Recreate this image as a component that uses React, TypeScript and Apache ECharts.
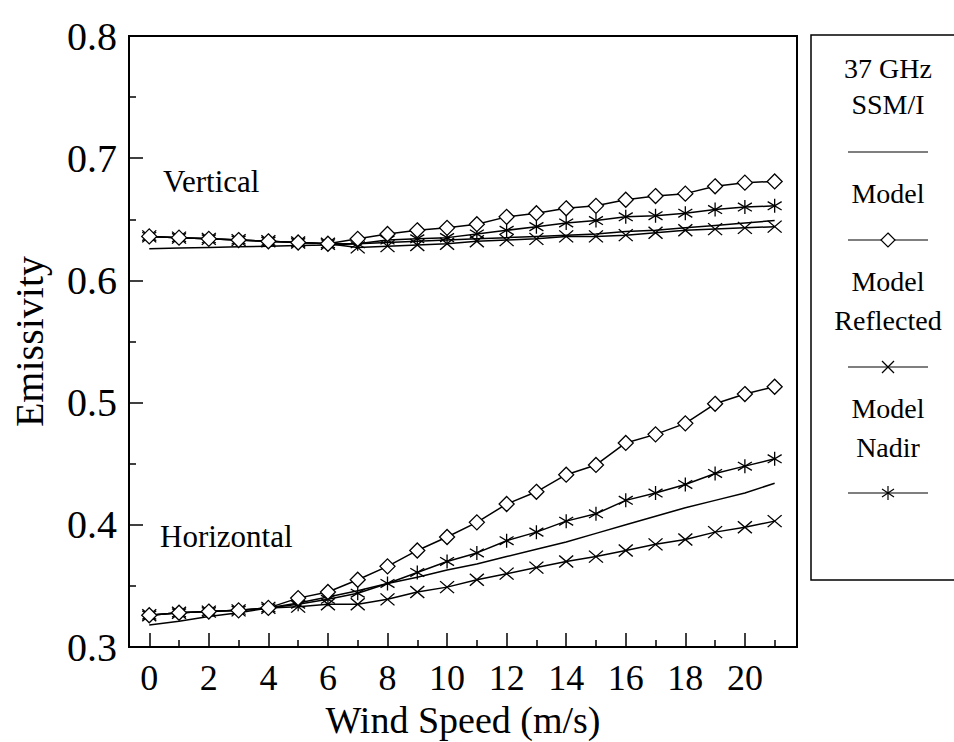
import React, { useEffect, useRef } from "react";
import * as echarts from "echarts";

const windSpeed = [0, 1, 2, 3, 4, 5, 6, 7, 8, 9, 10, 11, 12, 13, 14, 15, 16, 17, 18, 19, 20, 21];

const ssmiVertical = [0.626, 0.6265, 0.627, 0.6275, 0.628, 0.6285, 0.629, 0.63, 0.631, 0.632, 0.633, 0.634, 0.635, 0.636, 0.637, 0.638, 0.64, 0.641, 0.643, 0.645, 0.647, 0.649];
const modelVertical = [0.636, 0.635, 0.634, 0.633, 0.632, 0.631, 0.63, 0.634, 0.638, 0.641, 0.643, 0.646, 0.652, 0.655, 0.659, 0.661, 0.666, 0.669, 0.671, 0.677, 0.68, 0.681];
const reflectedVertical = [0.636, 0.635, 0.634, 0.633, 0.632, 0.631, 0.63, 0.627, 0.628, 0.629, 0.63, 0.632, 0.633, 0.634, 0.636, 0.636, 0.637, 0.639, 0.641, 0.642, 0.643, 0.644];
const nadirVertical = [0.636, 0.635, 0.634, 0.633, 0.632, 0.631, 0.63, 0.63, 0.633, 0.634, 0.635, 0.638, 0.641, 0.644, 0.647, 0.649, 0.652, 0.653, 0.655, 0.658, 0.66, 0.661];

const ssmiHorizontal = [0.318, 0.321, 0.325, 0.328, 0.332, 0.336, 0.341, 0.346, 0.352, 0.357, 0.363, 0.368, 0.374, 0.38, 0.386, 0.393, 0.4, 0.407, 0.414, 0.42, 0.426, 0.434];
const modelHorizontal = [0.326, 0.328, 0.329, 0.33, 0.332, 0.34, 0.345, 0.355, 0.366, 0.379, 0.39, 0.402, 0.417, 0.427, 0.441, 0.449, 0.467, 0.474, 0.483, 0.499, 0.507, 0.513];
const nadirHorizontal = [0.326, 0.328, 0.329, 0.33, 0.332, 0.335, 0.339, 0.344, 0.352, 0.361, 0.37, 0.377, 0.387, 0.394, 0.403, 0.409, 0.42, 0.426, 0.433, 0.442, 0.448, 0.454];
const reflectedHorizontal = [0.326, 0.328, 0.329, 0.33, 0.332, 0.333, 0.335, 0.335, 0.339, 0.345, 0.349, 0.355, 0.36, 0.365, 0.37, 0.374, 0.379, 0.384, 0.388, 0.394, 0.398, 0.403];

const majorXTicks = [0, 2, 4, 6, 8, 10, 12, 14, 16, 18, 20];
const minorXTicks = [1, 3, 5, 7, 9, 11, 13, 15, 17, 19, 21];

const FONT = "'Liberation Serif', 'Times New Roman', serif";

const DIAMOND = "diamond";
const CROSS = "path://M0,0L10,10M10,0L0,10";
const STAR = "path://M5,0L5,10M0,2L10,8M10,2L0,8";

function pair(xs: number[], ys: number[]) {
  return xs.map((x, i) => [x, ys[i]]);
}

function lineSeries(name: string, ys: number[], symbol: string | null, size: number[] = [14, 14]) {
  return {
    name,
    type: "line",
    data: pair(windSpeed, ys),
    xAxisIndex: 0,
    yAxisIndex: 0,
    showSymbol: symbol !== null,
    symbol: symbol ?? "none",
    symbolSize: size,
    lineStyle: { color: "#000", width: 1.5 },
    itemStyle: { color: symbol === DIAMOND ? "#fff" : "none", borderColor: "#000", borderWidth: 1.3 },
    emphasis: { disabled: true },
  };
}

export default function App() {
  const ref = useRef<HTMLDivElement>(null);
  useEffect(() => {
    document.body.style.margin = "0";
    const chart = echarts.init(ref.current!, null, { renderer: "svg" });
    const lx = 888;
    const legendLine = (y: number) => ({
      type: "line",
      shape: { x1: 848, y1: y, x2: 928, y2: y },
      style: { stroke: "#000", lineWidth: 1.2 },
    });
    const legendText = (t: string, y: number) => ({
      type: "text",
      x: lx,
      y,
      style: { text: t, font: `28px ${FONT}`, fill: "#000", align: "center", verticalAlign: "middle" },
    });
    chart.setOption({
      animation: false,
      backgroundColor: "#fff",
      grid: {
        left: 129,
        right: 157,
        top: 36,
        bottom: 95,
        containLabel: false,
        outerBoundsMode: "none",
        show: true,
        borderColor: "#000",
        borderWidth: 2,
        backgroundColor: "transparent",
      },
      xAxis: [
        {
          type: "value",
          min: -0.68,
          max: 21.75,
          position: "bottom",
          name: "Wind Speed (m/s)",
          nameLocation: "middle",
          nameGap: 54,
          nameMoveOverlap: false,
          nameTextStyle: { fontFamily: FONT, fontSize: 38, lineHeight: 38, color: "#000" },
          axisLine: { show: true, onZero: false, lineStyle: { color: "#000", width: 2 } },
          axisTick: { show: true, inside: true, length: 14, customValues: majorXTicks, lineStyle: { color: "#000", width: 1.5 } },
          axisLabel: { show: true, customValues: majorXTicks, fontFamily: FONT, fontSize: 36, lineHeight: 36, color: "#000", margin: 13 },
          splitLine: { show: false },
        },
        {
          type: "value",
          min: -0.68,
          max: 21.75,
          position: "bottom",
          axisLine: { show: false, onZero: false },
          axisTick: { show: true, inside: true, length: 7, customValues: minorXTicks, lineStyle: { color: "#000", width: 1.5 } },
          axisLabel: { show: false },
          splitLine: { show: false },
        },
      ],
      yAxis: [
        {
          type: "value",
          min: 0.3,
          max: 0.8,
          interval: 0.1,
          name: "Emissivity",
          nameLocation: "middle",
          nameGap: 80,
          nameMoveOverlap: false,
          nameTextStyle: { fontFamily: FONT, fontSize: 40, color: "#000" },
          axisLine: { show: true, onZero: false, lineStyle: { color: "#000", width: 2 } },
          axisTick: { show: true, inside: true, length: 14, lineStyle: { color: "#000", width: 1.5 } },
          minorTick: { show: true, splitNumber: 2, length: 7, lineStyle: { color: "#000", width: 1.5 } },
          axisLabel: { fontFamily: FONT, fontSize: 40, color: "#000", margin: 12, formatter: (v: number) => v.toFixed(1) },
          splitLine: { show: false },
        },
      ],
      series: [
        lineSeries("SSM/I V", ssmiVertical, null),
        lineSeries("Reflected V", reflectedVertical, CROSS, [14, 12]),
        lineSeries("Nadir V", nadirVertical, STAR, [14, 14]),
        lineSeries("Model V", modelVertical, DIAMOND, [15, 15]),
        lineSeries("SSM/I H", ssmiHorizontal, null),
        lineSeries("Reflected H", reflectedHorizontal, CROSS, [14, 12]),
        lineSeries("Nadir H", nadirHorizontal, STAR, [14, 14]),
        lineSeries("Model H", modelHorizontal, DIAMOND, [15, 15]),
      ],
      graphic: [
        {
          type: "text",
          left: 163,
          top: 166,
          style: { text: "Vertical", font: `31px ${FONT}`, fill: "#000" },
        },
        {
          type: "text",
          left: 160,
          top: 521,
          style: { text: "Horizontal", font: `31px ${FONT}`, fill: "#000" },
        },
        {
          type: "rect",
          shape: { x: 811, y: 35, width: 180, height: 545 },
          style: { fill: "none", stroke: "#000", lineWidth: 1.5 },
        },
        legendText("37 GHz", 68),
        legendText("SSM/I", 104),
        legendLine(152),
        legendText("Model", 193),
        legendLine(240),
        {
          type: "polygon",
          shape: { points: [[888, 233], [895, 240], [888, 247], [881, 240]] },
          style: { fill: "#fff", stroke: "#000", lineWidth: 1.2 },
        },
        legendText("Model", 281),
        legendText("Reflected", 320),
        legendLine(367),
        { type: "line", shape: { x1: 882, y1: 361, x2: 894, y2: 373 }, style: { stroke: "#000", lineWidth: 1.2 } },
        { type: "line", shape: { x1: 894, y1: 361, x2: 882, y2: 373 }, style: { stroke: "#000", lineWidth: 1.2 } },
        legendText("Model", 408),
        legendText("Nadir", 447),
        legendLine(493),
        { type: "line", shape: { x1: 888, y1: 486, x2: 888, y2: 500 }, style: { stroke: "#000", lineWidth: 1.2 } },
        { type: "line", shape: { x1: 882, y1: 489, x2: 894, y2: 497 }, style: { stroke: "#000", lineWidth: 1.2 } },
        { type: "line", shape: { x1: 894, y1: 489, x2: 882, y2: 497 }, style: { stroke: "#000", lineWidth: 1.2 } },
      ],
    });
    return () => chart.dispose();
  }, []);
  return <div ref={ref} style={{ width: 954, height: 742 }} />;
}
